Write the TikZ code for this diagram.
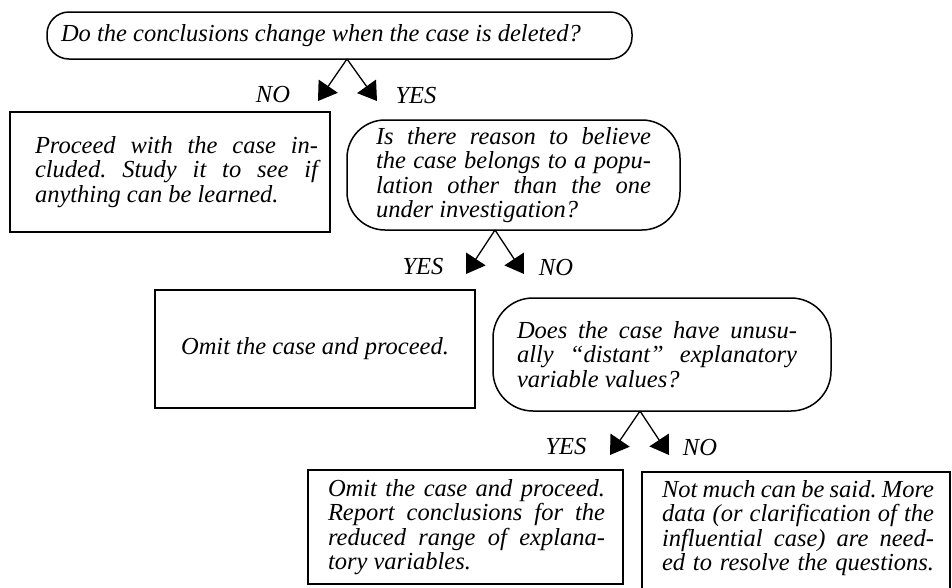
\documentclass[tikz,border=0pt]{standalone}
\usepackage{fontspec}
\setmainfont{Liberation Serif}
\usetikzlibrary{arrows.meta}
\frenchspacing
\newcommand\jl[2]{\makebox[#1][s]{\spaceskip=0pt\xspaceskip=0pt\frenchspacing #2}}
\begin{document}
\begin{tikzpicture}[x=1pt,y=-1pt,
  every node/.style={font=\fontsize{24.5}{24.3}\selectfont\itshape},
  sqbox/.style={draw, line width=2.2pt, inner sep=0pt, align=flush left},
  rbox/.style={draw, line width=1.5pt, inner sep=0pt, align=flush left},
  lbl/.style={inner sep=0pt},
  con/.style={line width=1.3pt, -{Triangle[length=18pt,width=23pt]}}]
\useasboundingbox (0,0) rectangle (952,587);

% top question
\node[rbox, minimum width=585pt, minimum height=47pt, rounded corners=22pt, text width=557pt]
  (q1) at (339.5,35.5) {Do the conclusions change when the case is deleted?};

% proceed box
\node[sqbox, minimum width=320pt, minimum height=120pt, text width=270pt]
  (b1) at (170,172) {\jl{283pt}{Proceed with the case in-}\\
  \jl{283pt}{cluded. Study it to see if}\\
  anything can be learned.};

% second question
\node[rbox, minimum width=333pt, minimum height=110pt, rounded corners=38pt, text width=275pt]
  (q2) at (513.5,175) {\jl{275pt}{Is there reason to believe}\\
  \jl{275pt}{the case belongs to a popu-}\\
  \jl{275pt}{lation other than the one}\\
  under investigation?};

% omit box
\node[sqbox, minimum width=320pt, minimum height=118pt, align=center]
  (b2) at (315,349) {Omit the case and proceed.};

% third question
\node[rbox, minimum width=338pt, minimum height=113pt, rounded corners=40pt, text width=290pt]
  (q3) at (662,354.5) {\jl{280pt}{Does the case have unusu-}\\
  \jl{280pt}{ally “distant” explanatory}\\
  variable values?};

% omit + report box
\node[sqbox, minimum width=315pt, minimum height=114pt, text width=275pt]
  (b3) at (465.5,527) {\jl{277pt}{Omit the case and proceed.}\\
  \jl{277pt}{Report conclusions for the}\\
  \jl{277pt}{reduced range of explana-}\\
  tory variables.};

% not much box (runs off the bottom)
\node[sqbox, minimum width=308pt, minimum height=128pt] (b4) at (796,536) {};
\node[inner sep=0pt, align=flush left, text width=268pt] (t4) at (796,528)
  {\jl{272pt}{Not much can be said. More}\\
  \jl{272pt}{data (or clarification of the}\\
  \jl{272pt}{influential case) are need-}\\
  \jl{272pt}{ed to resolve the questions.}};

% connectors
\coordinate (a1) at (347,59);
\coordinate (n1) at (318,101);
\coordinate (y1) at (377,101);
\draw[con] (a1) -- (n1);
\draw[con] (a1) -- (y1);
\node[lbl] (l1n) at (273,95) {NO};
\node[lbl] (l1y) at (416,96) {YES};

\coordinate (a2) at (495,230);
\coordinate (y2) at (466,274);
\coordinate (n2) at (524,274);
\draw[con] (a2) -- (y2);
\draw[con] (a2) -- (n2);
\node[lbl] (l2y) at (423,267) {YES};
\node[lbl] (l2n) at (556,268) {NO};

\coordinate (a3) at (640,411);
\coordinate (y3) at (610,455);
\coordinate (n3) at (669,455);
\draw[con] (a3) -- (y3);
\draw[con] (a3) -- (n3);
\node[lbl] (l3y) at (566,446) {YES};
\node[lbl] (l3n) at (700,447) {NO};
\end{tikzpicture}
\end{document}
